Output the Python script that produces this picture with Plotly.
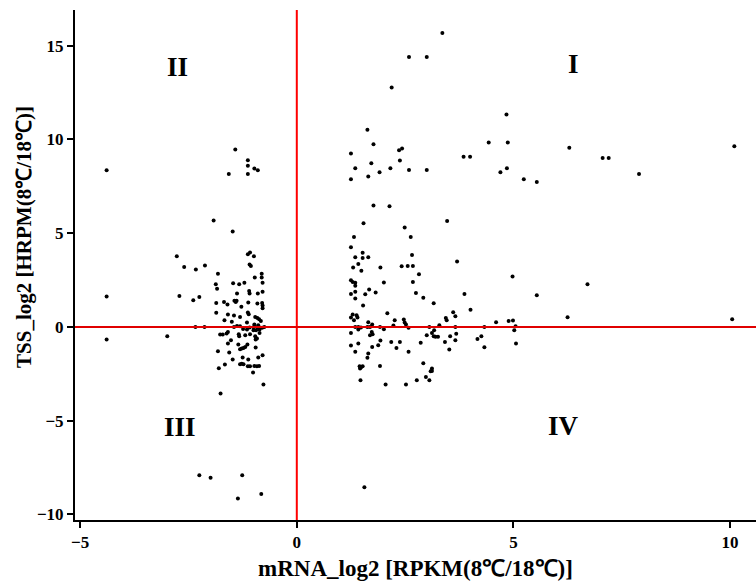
import plotly.graph_objects as go

# Quadrant II / III points (mRNA_log2 < 0)
left_x = [-4.39, -4.39, -4.39, -2.99, -2.71, -2.39, -2.25, -2.34, -2.13, -1.76,
          -2.25, -1.99, -1.26, -1.36, -0.82, -0.77, -1.42, -1.57, -1.13, -1.13,
          -1.13, -0.98, -0.90, -1.92, -1.48, -2.77, -2.60, -2.33, -2.12, -1.82,
          -1.87, -1.84, -1.47, -1.33, -1.21, -1.38, -1.08, -1.13, -0.99, -1.09,
          -1.06, -0.81, -0.81, -0.97, -0.79, -1.10, -1.09, -0.90, -0.79, -1.86,
          -1.68, -1.60, -1.44, -1.41, -1.39, -1.28, -1.12, -0.91, -0.80, -0.79,
          -0.79, -1.86, -1.59, -1.45, -1.31, -1.13, -1.11, -0.96, -0.91, -0.87,
          -0.83, -1.67, -1.50, -1.15, -0.98, -0.89, -1.45, -1.31, -1.09, -1.00,
          -0.91, -0.80, -0.75, -1.38, -1.24, -1.15, -1.00, -0.94, -0.86, -1.77,
          -1.71, -1.59, -1.62, -1.34, -1.33, -1.19, -1.08, -0.96, -0.92, -0.95,
          -0.86, -1.52, -1.59, -1.35, -1.31, -1.27, -1.23, -1.19, -1.14, -0.95,
          -1.82, -1.56, -1.48, -1.25, -1.12, -0.89, -0.79, -1.66, -1.31, -1.27,
          -1.23, -1.13, -1.08, -0.98, -0.92, -0.87, -1.80, -1.01]
left_y = [8.36, 1.62, -0.67, -0.50, 1.65, 1.42, 1.60, 0.00, 0.00, -3.55,
          -7.91, -8.05, -7.91, -9.15, -8.91, -3.07, 9.46, 8.16, 8.89, 8.59,
          8.16, 8.45, 8.36, 5.67, 5.09, 3.77, 3.20, 3.06, 3.27, 2.83,
          2.28, 2.03, 2.33, 2.28, 2.35, 1.78, 3.97, 3.88, 3.77, 3.33,
          3.25, 2.83, 2.63, 2.63, 2.35, 1.92, 1.78, 1.78, 1.87, 1.28,
          1.33, 1.19, 1.39, 1.33, 1.39, 1.07, 1.30, 1.25, 1.28, 1.14,
          1.00, 0.75, 0.66, 0.61, 0.53, 0.77, 0.68, 0.53, 0.48, 0.41,
          0.32, 0.36, 0.27, 0.23, 0.13, 0.09, 0.00, 0.04, -0.03, -0.02,
          -0.03, -0.05, 0.00, 0.05, -0.11, -0.14, -0.18, -0.18, -0.14, -0.41,
          -0.41, -0.27, -0.35, -0.39, -0.50, -0.44, -0.39, -0.50, -0.62, -0.67,
          -0.32, -0.71, -0.89, -0.94, -1.19, -1.15, -1.12, -1.07, -0.94, -1.10,
          -1.30, -1.37, -1.74, -1.63, -1.74, -1.63, -1.51, -2.01, -1.99, -1.97,
          -1.99, -2.10, -2.10, -2.08, -2.10, -2.08, -2.20, -2.43]

# Quadrant I / IV points (mRNA_log2 > 0)
right_x = [3.36, 2.59, 3.00, 2.19, 4.84, 1.63, 1.77, 4.43, 4.87, 6.29,
           10.10, 1.25, 2.36, 2.43, 2.38, 1.72, 3.85, 4.00, 7.06, 7.20,
           1.35, 2.16, 2.59, 3.00, 4.85, 4.70, 1.91, 1.25, 1.65, 5.24,
           5.54, 7.90, 1.77, 2.14, 3.47, 1.54, 2.49, 1.32, 2.63, 1.25,
           1.52, 1.35, 1.52, 1.65, 2.66, 3.70, 1.42, 1.30, 1.49, 1.93,
           2.42, 2.56, 2.68, 2.82, 4.98, 6.71, 1.25, 1.29, 1.35, 1.35,
           2.01, 2.68, 1.25, 1.35, 1.58, 1.67, 1.82, 2.75, 2.92, 3.87,
           5.54, 1.35, 1.53, 3.16, 4.01, 2.09, 1.25, 1.29, 1.32, 1.38,
           1.40, 6.25, 10.05, 2.26, 2.47, 2.49, 2.52, 3.44, 3.46, 3.61,
           3.66, 4.60, 4.89, 4.99, 5.05, 5.02, 5.06, 1.65, 1.74, 1.69,
           1.63, 1.92, 2.01, 2.23, 2.58, 1.42, 1.35, 3.06, 3.29, 3.66,
           4.33, 1.25, 1.73, 1.69, 1.75, 3.00, 3.12, 3.17, 3.20, 3.16,
           3.26, 3.54, 3.68, 4.26, 4.17, 1.25, 1.42, 1.35, 1.65, 1.63,
           1.74, 1.88, 1.93, 2.18, 2.30, 2.38, 2.58, 2.86, 3.42, 3.52,
           3.66, 4.33, 1.45, 1.48, 1.52, 1.46, 1.92, 1.47, 2.05, 2.52,
           2.77, 2.92, 2.98, 3.06, 3.09, 3.12, 3.12, 1.56, 1.42, 1.48]
right_y = [15.68, 14.40, 14.40, 12.77, 11.33, 10.51, 9.74, 9.83, 9.83, 9.55,
           9.64, 9.25, 9.42, 9.51, 8.87, 8.73, 9.07, 9.07, 9.01, 9.01,
           8.46, 8.46, 8.37, 8.37, 8.46, 8.25, 8.25, 7.88, 8.02, 7.88,
           7.73, 8.16, 6.47, 6.44, 5.65, 5.53, 5.30, 4.80, 4.80, 4.25,
           3.95, 3.72, 3.68, 3.72, 3.84, 3.49, 3.36, 3.17, 2.99, 3.17,
           3.24, 3.25, 3.25, 2.81, 2.69, 2.28, 2.49, 2.40, 2.35, 2.19,
           2.37, 2.40, 1.76, 1.87, 1.74, 1.99, 1.83, 1.81, 1.55, 1.76,
           1.69, 1.51, 1.14, 1.26, 0.91, 0.73, 0.50, 0.66, 0.36, 0.62,
           0.50, 0.52, 0.41, 0.36, 0.39, 0.23, 0.13, 0.48, 0.36, 0.78,
           0.57, 0.25, 0.32, 0.34, 0.04, -0.18, -0.89, 0.25, 0.13, 0.00,
           0.00, 0.00, -0.12, 0.07, -0.05, 0.00, 0.00, 0.00, 0.09, 0.00,
           0.00, -0.32, -0.27, -0.44, -0.39, -0.44, -0.32, -0.18, -0.53, -0.50,
           -0.53, -0.50, -0.36, -0.50, -0.64, -0.99, -0.89, -1.33, -1.42, -1.65,
           -1.07, -0.98, -0.73, -0.80, -1.12, -0.80, -1.33, -0.85, -0.80, -1.21,
           -0.71, -1.08, -2.10, -2.17, -2.10, -2.22, -2.08, -2.84, -3.07, -3.07,
           -2.84, -1.94, -2.67, -2.84, -2.36, -2.22, -2.35, -8.55, -0.14, -0.03]

quad_labels = ["I", "II", "III", "IV"]
quad_x = [6.38, -2.76, -2.70, 6.15]
quad_y = [14.0, 13.85, -5.33, -5.28]

x_ticks = [-5, 0, 5, 10]
x_tick_labels = ["−5", "0", "5", "10"]
y_ticks = [-10, -5, 0, 5, 10, 15]
y_tick_labels = ["−10", "−5", "0", "5", "10", "15"]

x_title = "mRNA_log2 [RPKM(8℃/18℃)]"
y_title = "TSS_log2 [HRPM(8℃/18℃)]"

FONT = "Liberation Serif, Times New Roman, serif"

fig = go.Figure()
fig.add_trace(go.Scatter(
    x=left_x + right_x, y=left_y + right_y, mode="markers",
    marker=dict(color="black", size=4, line=dict(width=0)),
    showlegend=False, hoverinfo="x+y"))

# red reference lines at 0
fig.add_shape(type="line", xref="x", yref="paper", x0=0, x1=0, y0=0, y1=1,
              line=dict(color="#ff0000", width=2))
fig.add_shape(type="line", xref="paper", yref="y", x0=0, x1=1, y0=0, y1=0,
              line=dict(color="#e00000", width=2))

for t, xx, yy in zip(quad_labels, quad_x, quad_y):
    fig.add_annotation(x=xx, y=yy, text="<b>%s</b>" % t, showarrow=False,
                       font=dict(family=FONT, size=27, color="black"))

# axis titles as annotations (fixed positions)
fig.add_annotation(xref="paper", yref="paper", x=0.5, y=0, yanchor="middle",
                   yshift=-48, text="<b>%s</b>" % x_title, showarrow=False,
                   font=dict(family=FONT, size=23, color="black"))
fig.add_annotation(xref="paper", yref="paper", x=0, y=0.555, xanchor="center",
                   xshift=-51, textangle=-90, text="<b>%s</b>" % y_title,
                   showarrow=False, font=dict(family=FONT, size=21, color="black"))

axis_common = dict(showline=True, linecolor="black", linewidth=2,
                   ticks="outside", ticklen=6, tickwidth=2, tickcolor="black",
                   showgrid=False, zeroline=False, automargin=False,
                   tickfont=dict(family=FONT, size=17, color="black"))

fig.update_xaxes(range=[-5.12, 10.6], tickvals=x_ticks,
                 ticktext=["<b>%s</b>" % s for s in x_tick_labels], **axis_common)
fig.update_yaxes(range=[-10.3, 16.9], tickvals=y_ticks,
                 ticktext=["<b>%s</b>" % s for s in y_tick_labels], **axis_common)

fig.update_layout(width=756, height=582, plot_bgcolor="white", paper_bgcolor="white",
                  margin=dict(l=75, r=0, t=10, b=62))

fig.write_html("out.html", config={"displayModeBar": False},
               post_script="document.body.style.margin='0';document.body.style.overflow='hidden';")
